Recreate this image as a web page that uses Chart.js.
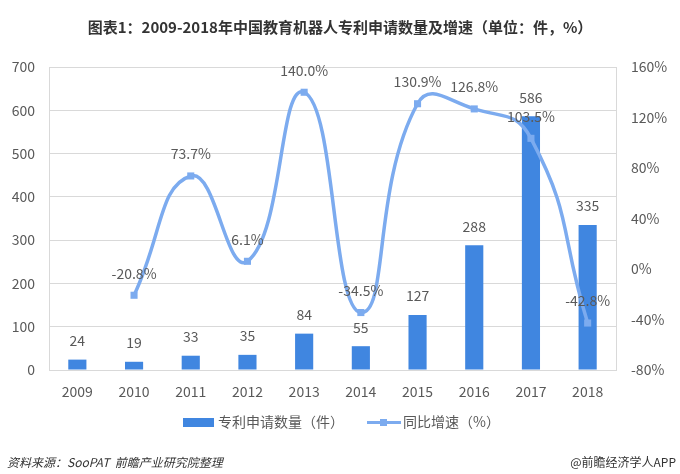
<!DOCTYPE html>
<html>
<head>
<meta charset="utf-8">
<script src="https://cdn.jsdelivr.net/npm/chart.js@4/dist/chart.umd.min.js"></script>
<style>
  body { margin: 0; background: #fff; }
  canvas { display: block; }
</style>
</head>
<body>
<canvas id="patentChart" width="680" height="474"></canvas>
<script>
const years = ["2009", "2010", "2011", "2012", "2013", "2014", "2015", "2016", "2017", "2018"];
const patentCounts = [24, 19, 33, 35, 84, 55, 127, 288, 586, 335];
const growthRates = [null, -20.8, 73.7, 6.1, 140.0, -34.5, 130.9, 126.8, 103.5, -42.8];
const leftTicks = [0, 700, 100];
const rightTicks = [-80, 160, 40];

const FONT = "'Noto Sans CJK SC', 'Noto Sans', sans-serif";
const BAR_COLOR = "#4086e0";
const LINE_COLOR = "#7cabef";
const TEXT_COLOR = "#595959";
const GRID_COLOR = "#d9d9d9";

// labels above bars / points, plus title, legend and footer
const extrasPlugin = {
    id: "extras",
    afterDatasetsDraw(chart) {
        const ctx = chart.ctx;
        ctx.save();
        ctx.font = "14px " + FONT;
        ctx.fillStyle = TEXT_COLOR;
        ctx.textAlign = "center";
        ctx.textBaseline = "middle";

        chart.getDatasetMeta(0).data.forEach((bar, i) => {
            ctx.fillText(patentCounts[i], bar.x, bar.y - 19);
        });
        chart.getDatasetMeta(1).data.forEach((pt, i) => {
            if (growthRates[i] === null) return;
            ctx.fillText(growthRates[i].toFixed(1) + "%", pt.x, pt.y - 22);
        });
        ctx.restore();
    },
    afterDraw(chart) {
        const ctx = chart.ctx;
        ctx.save();

        // title
        ctx.font = "bold 15px " + FONT;
        ctx.fillStyle = "#333333";
        ctx.textAlign = "center";
        ctx.textBaseline = "middle";
        ctx.fillText("图表1：2009-2018年中国教育机器人专利申请数量及增速（单位：件，%）", 340, 27);

        // legend
        ctx.fillStyle = BAR_COLOR;
        ctx.fillRect(183, 418, 31, 9);
        ctx.strokeStyle = LINE_COLOR;
        ctx.lineWidth = 3;
        ctx.beginPath();
        ctx.moveTo(367, 422.5);
        ctx.lineTo(401, 422.5);
        ctx.stroke();
        ctx.fillStyle = LINE_COLOR;
        ctx.fillRect(380, 419, 7, 7);

        ctx.font = "14px " + FONT;
        ctx.fillStyle = TEXT_COLOR;
        ctx.textAlign = "left";
        ctx.fillText("专利申请数量（件）", 218, 422);
        ctx.fillText("同比增速（%）", 403, 422);

        // footer
        ctx.font = "italic 12px " + FONT;
        ctx.fillStyle = "#333333";
        ctx.fillText("资料来源：SooPAT  前瞻产业研究院整理", 7, 462);
        ctx.font = "12px " + FONT;
        ctx.textAlign = "right";
        ctx.fillText("@前瞻经济学人APP", 676, 462);
        ctx.restore();
    }
};

const ctx = document.getElementById("patentChart").getContext("2d");
new Chart(ctx, {
    type: "bar",
    data: {
        labels: years,
        datasets: [{
            type: "bar",
            label: "专利申请数量（件）",
            data: patentCounts,
            backgroundColor: BAR_COLOR,
            yAxisID: "y",
            categoryPercentage: 1,
            barPercentage: 0.32,
            order: 2
        }, {
            type: "line",
            label: "同比增速（%）",
            data: growthRates,
            borderColor: LINE_COLOR,
            backgroundColor: LINE_COLOR,
            borderWidth: 3.5,
            tension: 0.5,
            pointStyle: "rect",
            pointRadius: 5,
            pointBorderWidth: 0,
            yAxisID: "y1",
            order: 1
        }]
    },
    options: {
        responsive: false,
        animation: false,
        devicePixelRatio: 1,
        layout: { padding: { top: 67, bottom: 70, left: 0, right: 0 } },
        plugins: {
            legend: { display: false },
            title: { display: false },
            tooltip: { enabled: false }
        },
        scales: {
            x: {
                grid: { display: false, drawTicks: false },
                border: { display: true, color: GRID_COLOR },
                ticks: { color: TEXT_COLOR, font: { family: FONT, size: 14 }, padding: 13 },
                afterFit: scale => { scale.height = 34; }
            },
            y: {
                position: "left",
                min: leftTicks[0],
                max: leftTicks[1],
                ticks: { stepSize: leftTicks[2], color: TEXT_COLOR, font: { family: FONT, size: 14 }, padding: 14 },
                grid: { color: GRID_COLOR, drawTicks: false },
                border: { display: true, color: GRID_COLOR },
                afterFit: scale => { scale.width = 49; }
            },
            y1: {
                position: "right",
                min: rightTicks[0],
                max: rightTicks[1],
                ticks: {
                    stepSize: rightTicks[2],
                    color: TEXT_COLOR,
                    font: { family: FONT, size: 14 },
                    padding: 15,
                    callback: v => v + "%"
                },
                grid: { display: false, drawTicks: false },
                border: { display: true, color: GRID_COLOR },
                afterFit: scale => { scale.width = 64; }
            }
        }
    },
    plugins: [extrasPlugin]
});
</script>
</body>
</html>
